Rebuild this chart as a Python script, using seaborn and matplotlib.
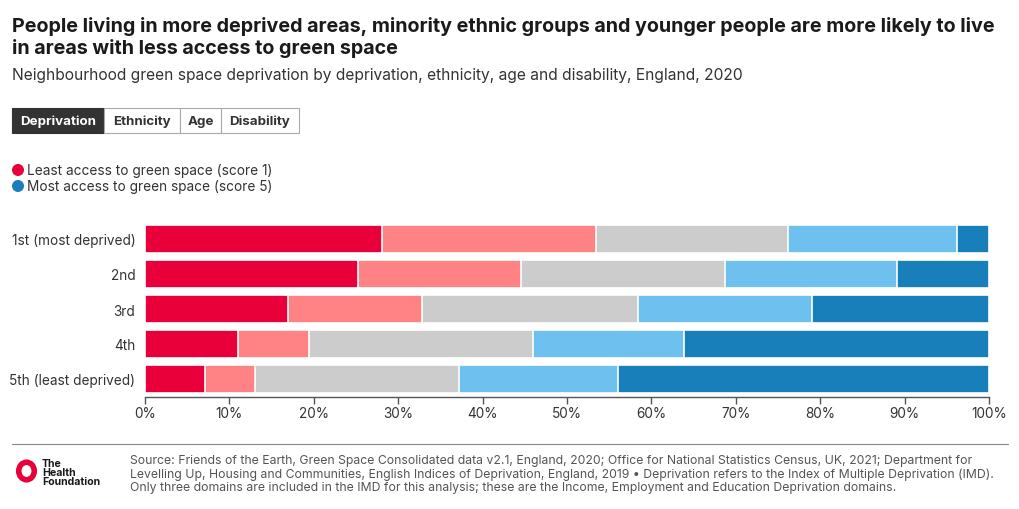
import matplotlib.pyplot as plt
import matplotlib.patches as mpatches
import numpy as np
import pandas as pd
import seaborn as sns

categories = ["1st (most deprived)", "2nd", "3rd", "4th", "5th (least deprived)"]
score_1 = [28.1, 25.2, 16.9, 11.0, 7.1]
score_2 = [25.3, 19.3, 15.9, 8.4, 5.9]
score_3 = [22.8, 24.2, 25.6, 26.6, 24.2]
score_4 = [20.0, 20.4, 20.6, 17.9, 18.8]
score_5 = [3.8, 10.9, 21.0, 36.1, 44.0]
ticks = list(range(0, 101, 10))
tick_labels = [f"{t}%" for t in ticks]

colors = ["#e9003a", "#ff8285", "#cccccc", "#6ec1ee", "#197fbb"]
W, H = 1020, 510

df = pd.DataFrame({"cat": categories, "s1": score_1, "s2": score_2,
                   "s3": score_3, "s4": score_4, "s5": score_5})
cols = ["s1", "s2", "s3", "s4", "s5"]
cum = df[cols].cumsum(axis=1)

sns.set_theme(style="white")
plt.rcParams["font.family"] = ["Inter", "DejaVu Sans"]

fig = plt.figure(figsize=(W / 100, H / 100), dpi=100)


def px(x, y):
    return x / W, 1 - y / H


ax = fig.add_axes([145 / W, 1 - 397.5 / H, (989 - 145) / W, 175 / H])
# draw cumulative layers from the right so each segment sits on top
for i in range(4, -1, -1):
    sns.barplot(x=cum[cols[i]], y=df["cat"], orient="h", color=colors[i],
                width=0.78, edgecolor="white", linewidth=1.2, ax=ax,
                saturation=1)
ax.set_xlim(0, 100)
ax.set_ylim(4.5, -0.5)
ax.set_xticks(ticks)
ax.set_xticklabels(tick_labels, fontsize=9.8, color="#333333")
ax.tick_params(axis="x", length=5, width=1, color="#555555", bottom=True, pad=2)
ax.tick_params(axis="y", length=0, pad=7, labelsize=9.8, labelcolor="#333333")
ax.set_xlabel("")
ax.set_ylabel("")
for s in ["top", "right", "left"]:
    ax.spines[s].set_visible(False)
ax.spines["bottom"].set_color("#555555")
ax.spines["bottom"].set_linewidth(1)

# titles
fig.text(*px(12, 32), "People living in more deprived areas, minority ethnic groups and younger people are more likely to live",
         fontsize=14.2, fontweight="bold", color="#1a1a1a")
fig.text(*px(12, 54), "in areas with less access to green space",
         fontsize=14.2, fontweight="bold", color="#1a1a1a")
fig.text(*px(12, 80), "Neighbourhood green space deprivation by deprivation, ethnicity, age and disability, England, 2020",
         fontsize=11.2, color="#333333")

# buttons
buttons = [("Deprivation", 12, 104), ("Ethnicity", 104, 180), ("Age", 180, 221), ("Disability", 221, 299)]
for j, (lab, x0, x1) in enumerate(buttons):
    active = j == 0
    rect = mpatches.Rectangle(px(x0, 134), (x1 - x0) / W, 25 / H, transform=fig.transFigure,
                              facecolor="#333333" if active else "white",
                              edgecolor="#333333" if active else "#aaaaaa", linewidth=0.8)
    fig.add_artist(rect)
    fig.text(*px((x0 + x1) / 2, 121.5), lab, ha="center", va="center", fontsize=9.6,
             fontweight="bold", color="white" if active else "#333333")

# legend
for yy, c, lab in [(171, colors[0], "Least access to green space (score 1)"),
                   (187, colors[4], "Most access to green space (score 5)")]:
    fig.add_artist(mpatches.Ellipse(px(18, yy), 12 / W, 12 / H, transform=fig.transFigure,
                                    facecolor=c, edgecolor="none"))
    fig.text(*px(27, yy), lab, va="center", fontsize=9.8, color="#333333")

# footer
fig.add_artist(plt.Line2D([12 / W, 1008 / W], [1 - 445 / H] * 2, transform=fig.transFigure,
                          color="#888888", linewidth=0.8))
fig.add_artist(mpatches.Ellipse(px(26.5, 472), 15.5 / W, 17.5 / H, transform=fig.transFigure,
                                facecolor="none", edgecolor="#e9003a", linewidth=4.0))
fig.text(*px(42, 473), "The\nHealth\nFoundation", va="center", fontsize=7.6, fontweight="bold",
         color="#1a1a1a", linespacing=0.92)
source = ("Source: Friends of the Earth, Green Space Consolidated data v2.1, England, 2020; Office for National Statistics Census, UK, 2021; Department for\n"
          "Levelling Up, Housing and Communities, English Indices of Deprivation, England, 2019 \u2022 Deprivation refers to the Index of Multiple Deprivation (IMD).\n"
          "Only three domains are included in the IMD for this analysis; these are the Income, Employment and Education Deprivation domains.")
fig.text(*px(130, 455), source, va="top", fontsize=8.8, color="#555555", linespacing=1.12)

fig.savefig("out.png", dpi=100)
